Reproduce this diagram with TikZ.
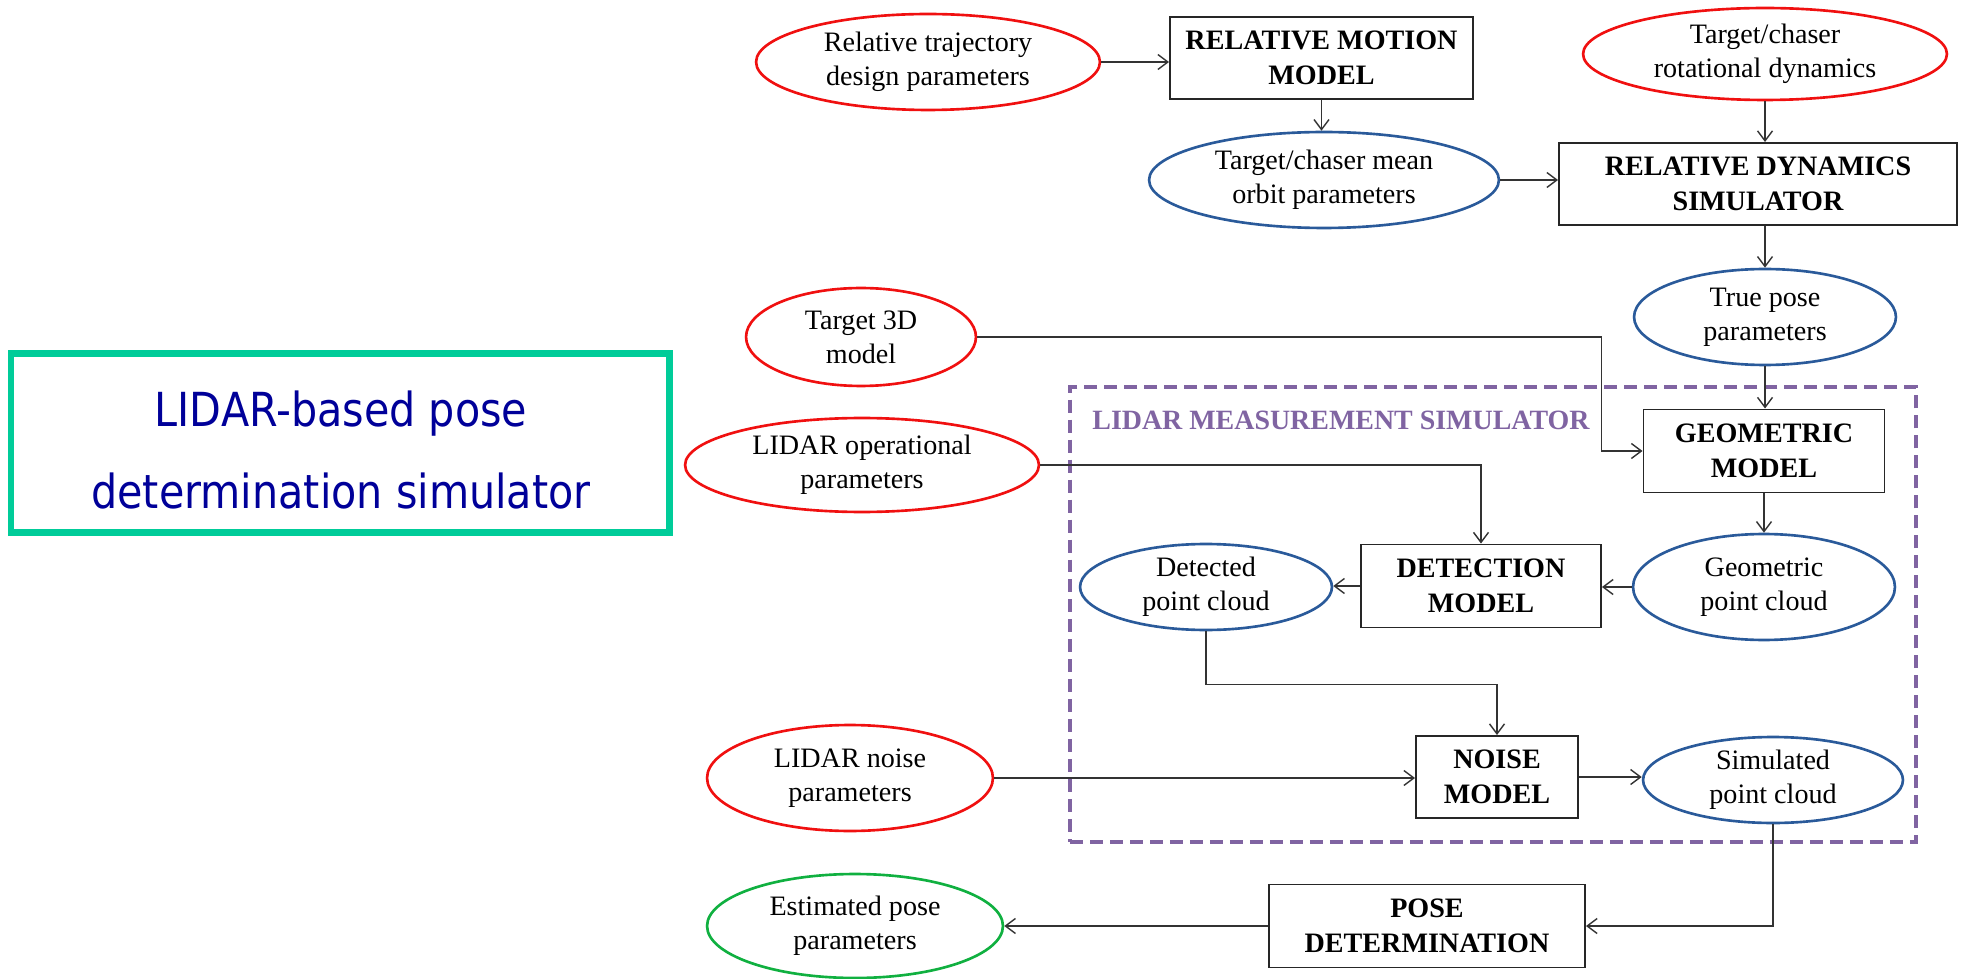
\documentclass[tikz,border=0pt]{standalone}
\usepackage{fontspec}
\setmainfont{Liberation Serif}
\newfontfamily\headfont[FakeStretch=0.88]{DejaVu Sans}
\usetikzlibrary{arrows.meta,shapes.geometric,calc}

\definecolor{inred}{HTML}{F01010}
\definecolor{outblue}{HTML}{2A5A9A}
\definecolor{estgreen}{HTML}{10B040}
\definecolor{simpurple}{HTML}{8064A2}
\definecolor{framegreen}{HTML}{00CC99}
\definecolor{headblue}{HTML}{000099}

\begin{document}
\begin{tikzpicture}[x=0.02cm,y=-0.02cm,
  txt/.style={font=\fontsize{16}{19.4}\selectfont, align=center},
  ell/.style 2 args={ellipse, draw, line width=1.5pt, inner xsep=0pt, inner ysep=-3pt,
    minimum width=#1*0.04cm, minimum height=#2*0.04cm, txt},
  inell/.style 2 args={ell={#1}{#2}, draw=inred},
  outell/.style 2 args={ell={#1}{#2}, draw=outblue},
  estell/.style 2 args={ell={#1}{#2}, draw=estgreen},
  blk/.style 2 args={rectangle, draw=black!85, line width=1.1pt, inner sep=0pt,
    minimum width=#1*0.02cm, minimum height=#2*0.02cm,
    font=\fontsize{16}{19.7}\selectfont\bfseries, align=center},
  link/.style={draw=black!80, line width=0.8pt},
  arr/.style={link, -{Straight Barb[length=0.2cm,width=0.3cm]}},
  headtxt/.style={font=\headfont\fontsize{26.7}{30}\selectfont, text=headblue, inner sep=0pt, anchor=base}
]
\useasboundingbox (0,0) rectangle (1963,979);

% title frame
\node[draw=framegreen, line width=0.14cm, minimum width=658*0.02cm,
      minimum height=178*0.02cm, inner sep=0pt] (frame) at (340,443) {};
\node[headtxt] (head1) at (341,427) {LIDAR-based pose};
\node[headtxt] (head2) at (341,508) {determination simulator};

% LIDAR measurement simulator boundary
\node[draw=simpurple, line width=2pt, dash pattern=on 0.26cm off 0.14cm,
      minimum width=846*0.02cm, minimum height=455*0.02cm, inner sep=0pt] (lms) at (1493,614.5) {};
\node[anchor=base west, inner sep=0pt, text=simpurple,
      font=\fontsize{15.9}{18}\selectfont\bfseries] (lmslabel) at (1092,430) {LIDAR MEASUREMENT SIMULATOR};

% inputs, intermediate data and processing blocks
\node[inell={172}{48}] (rtd) at (928,62) {Relative trajectory\\design parameters};
\node[blk={303}{82}] (rmm) at (1321.5,58) {RELATIVE MOTION\\MODEL};
\node[outell={175}{48}] (mean) at (1324,180) {Target/chaser mean\\orbit parameters};
\node[inell={182}{46}] (rot) at (1765,54) {Target/chaser\\rotational dynamics};
\node[blk={398}{82}] (rds) at (1758,184) {RELATIVE DYNAMICS\\SIMULATOR};
\node[outell={131}{48}] (tpose) at (1765,317) {True pose\\parameters};
\node[inell={115}{49}] (t3d) at (861,337) {Target 3D\\model};
\node[inell={177}{47}] (lop) at (862,465) {LIDAR operational\\parameters};
\node[blk={241}{83}] (geo) at (1764,451) {GEOMETRIC\\MODEL};
\node[outell={131}{53}] (gpc) at (1764,587) {Geometric\\point cloud};
\node[blk={240}{83}] (det) at (1481,586) {DETECTION\\MODEL};
\node[outell={126}{43}] (dpc) at (1206,587) {Detected\\point cloud};
\node[inell={143}{53}] (lnoise) at (850,778) {LIDAR noise\\parameters};
\node[blk={162}{82}] (noise) at (1497,777) {NOISE\\MODEL};
\node[outell={130}{43}] (spc) at (1773,780) {Simulated\\point cloud};
\node[blk={316}{83}] (pose) at (1427,926) {POSE\\DETERMINATION};
\node[estell={148}{52}] (est) at (855,926) {Estimated pose\\parameters};

% connectors
\draw[arr] (rtd.east) -- (rtd.east -| rmm.west);
\draw[arr] (rmm.south) -- (rmm.south |- mean.north);
\draw[arr] (mean.east) -- (mean.east -| rds.west);
\draw[arr] (rot.south) -- (rot.south |- rds.north);
\draw[arr] (rds.south -| tpose.north) -- (tpose.north);
\draw[arr] (tpose.south) -- (tpose.south |- geo.north);
\draw[arr] (t3d.east) -| ([xshift=-0.82cm]geo.west) -- (geo.west);
\draw[arr] (lop.east) -| (det.north);
\draw[arr] (geo.south) -- (gpc.north);
\draw[arr] (gpc.west) -- (gpc.west -| det.east);
\draw[arr] (det.west) -- (det.west -| dpc.east);
\draw[arr] (dpc.south) -- ++(0,53) -| (noise.north);
\draw[arr] (lnoise.east) -- (lnoise.east -| noise.west);
\draw[arr] (noise.east) -- (noise.east -| spc.west);
\draw[arr] (spc.south) |- (pose.east);
\draw[arr] (pose.west) -- (pose.west -| est.east);
\end{tikzpicture}
\end{document}
